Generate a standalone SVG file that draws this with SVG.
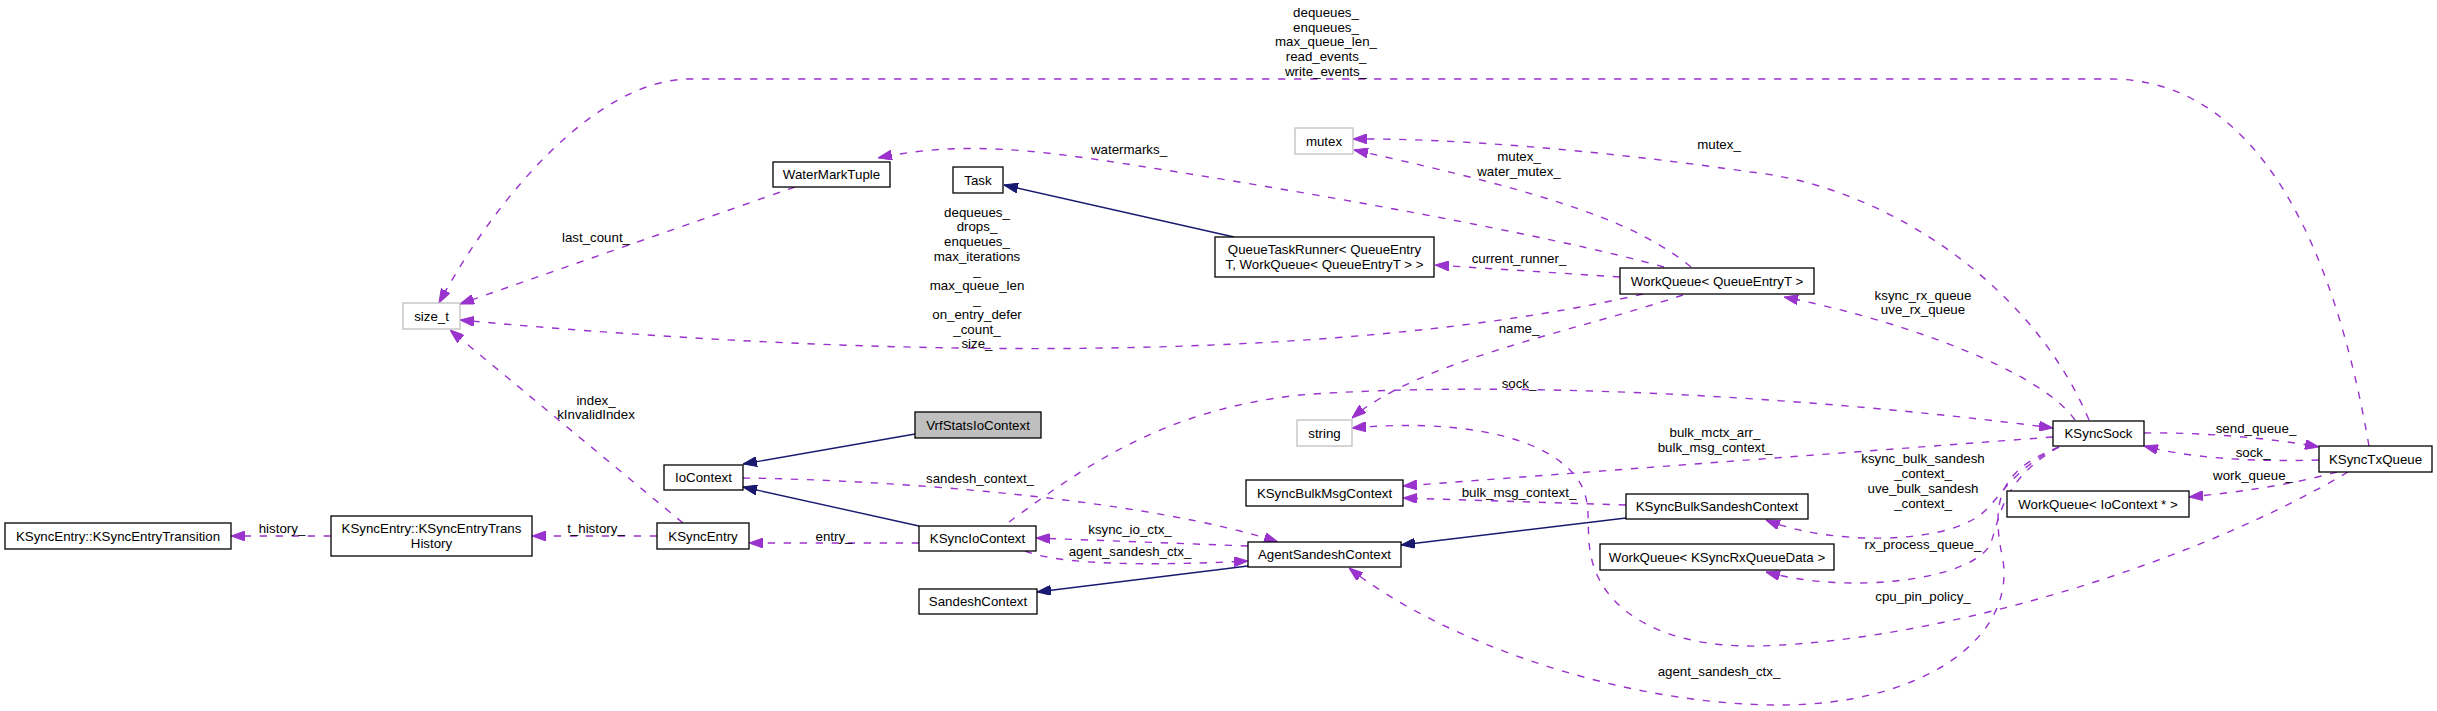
<svg xmlns="http://www.w3.org/2000/svg" width="2437" height="711" viewBox="0 0 2437 711">
<style>
.n rect{fill:#fff;stroke:#000;stroke-width:1.3}
.n.g rect{stroke:#bfbfbf}
.n.f rect{fill:#bfbfbf}
text{font-family:"Liberation Sans",Arial,Helvetica,sans-serif;font-size:13.3px;fill:#000;text-anchor:middle}
.e path{fill:none;stroke:#9a32cd;stroke-width:1.4;stroke-dasharray:7.3,8.7;marker-end:url(#ap)}
.e path.i{stroke:#191970;stroke-dasharray:none;marker-end:url(#an)}
</style>
<defs>
<marker id="ap" markerUnits="userSpaceOnUse" viewBox="0 0 14 10" refX="14" refY="5" markerWidth="14" markerHeight="10" orient="auto"><path d="M0,0L14,5L0,10z" fill="#9a32cd" stroke="#9a32cd" stroke-width="1"/></marker>
<marker id="an" markerUnits="userSpaceOnUse" viewBox="0 0 14 10" refX="14" refY="5" markerWidth="14" markerHeight="10" orient="auto"><path d="M0,0L14,5L0,10z" fill="#191970" stroke="#191970" stroke-width="1"/></marker>
</defs>
<rect width="2437" height="711" fill="#fff"/>
<g id="edges" class="e">
<path d="M2369,446 C2335,250 2260,79 2110,79 L690,79 C600,79 500,190 439,303"/>
<path d="M795,187 L460,304"/>
<path d="M1643,294 C1400,350 1000,370 460,320"/>
<path d="M683,523 L450,330"/>
<path d="M1664,267 C1550,235 1300,190 1100,160 C1000,145 940,145 878,158"/>
<path class="i" d="M1234,237 L1004,185"/>
<path d="M1691,267 C1640,225 1560,195 1354,150"/>
<path d="M2089,420 C2030,280 1880,185 1750,172 C1600,150 1450,138 1353,139"/>
<path d="M1620,277 L1435,265"/>
<path d="M1683,295 C1580,330 1420,360 1352,418"/>
<path d="M2075,420 C2040,370 1900,320 1784,297"/>
<path d="M1009,522 C1080,470 1160,410 1300,395 C1500,380 1800,395 2053,428"/>
<path d="M2348,472 C2200,560 1950,640 1760,646 C1660,648 1610,610 1595,570 C1580,530 1600,500 1570,470 C1530,430 1440,420 1352,428"/>
<path d="M2053,437 L1403,486"/>
<path d="M1626,505 L1403,498"/>
<path class="i" d="M1626,518 L1401,545"/>
<path class="i" d="M1248,566 L1037,592"/>
<path class="i" d="M915,434 L743,464"/>
<path class="i" d="M919,526 L743,487"/>
<path d="M743,478 C900,480 1150,500 1278,542"/>
<path d="M919,543 L749,543"/>
<path d="M1248,546 L1036,538"/>
<path d="M1025,551 C1060,565 1150,566 1248,561"/>
<path d="M2059,447 C2000,470 1990,500 2003,560 C2015,640 1920,705 1780,705 C1620,705 1440,640 1349,568"/>
<path d="M2059,447 C2010,470 2000,500 1980,515 C1940,545 1830,545 1766,520"/>
<path d="M2059,447 C2000,480 2000,520 1990,545 C1970,580 1850,595 1766,572"/>
<path d="M2144,433 C2200,432 2270,438 2319,447"/>
<path d="M2319,460 C2250,462 2190,458 2144,446"/>
<path d="M2337,472 C2290,485 2240,492 2189,497"/>
<path d="M331,536 L231,536"/>
<path d="M657,536 L532,536"/>
</g>
<g id="labels">
<text x="1326" y="17">dequeues_</text>
<text x="1326" y="32">enqueues_</text>
<text x="1326" y="46">max_queue_len_</text>
<text x="1326" y="61">read_events_</text>
<text x="1326" y="76">write_events_</text>
<text x="596" y="242">last_count_</text>
<text x="977" y="217">dequeues_</text>
<text x="977" y="231">drops_</text>
<text x="977" y="246">enqueues_</text>
<text x="977" y="261">max_iterations</text>
<text x="977" y="275">_</text>
<text x="977" y="290">max_queue_len</text>
<text x="977" y="304">_</text>
<text x="977" y="319">on_entry_defer</text>
<text x="977" y="334">_count_</text>
<text x="977" y="348">size_</text>
<text x="596" y="405">index_</text>
<text x="596" y="419">kInvalidIndex</text>
<text x="1129" y="154">watermarks_</text>
<text x="1519" y="161">mutex_</text>
<text x="1519" y="176">water_mutex_</text>
<text x="1719" y="149">mutex_</text>
<text x="1519" y="263">current_runner_</text>
<text x="1519" y="333">name_</text>
<text x="1923" y="300">ksync_rx_queue</text>
<text x="1923" y="314">uve_rx_queue</text>
<text x="1519" y="388">sock_</text>
<text x="1923" y="601">cpu_pin_policy_</text>
<text x="1715" y="437">bulk_mctx_arr_</text>
<text x="1715" y="452">bulk_msg_context_</text>
<text x="1519" y="497">bulk_msg_context_</text>
<text x="980" y="483">sandesh_context_</text>
<text x="834" y="541">entry_</text>
<text x="1130" y="534">ksync_io_ctx_</text>
<text x="1130" y="556">agent_sandesh_ctx_</text>
<text x="1719" y="676">agent_sandesh_ctx_</text>
<text x="1923" y="463">ksync_bulk_sandesh</text>
<text x="1923" y="478">_context_</text>
<text x="1923" y="493">uve_bulk_sandesh</text>
<text x="1923" y="508">_context_</text>
<text x="1923" y="549">rx_process_queue_</text>
<text x="2256" y="433">send_queue_</text>
<text x="2253" y="457">sock_</text>
<text x="2253" y="480">work_queue_</text>
<text x="282" y="533">history_</text>
<text x="596" y="533">t_history_</text>
</g>
<g id="size_t" class="n g"><rect x="403" y="303" width="57" height="26"/><text x="431.5" y="320.5">size_t</text></g>
<g id="WaterMarkTuple" class="n"><rect x="773" y="162" width="117" height="25"/><text x="831.5" y="179">WaterMarkTuple</text></g>
<g id="Task" class="n"><rect x="953" y="167" width="50" height="26"/><text x="978" y="184.5">Task</text></g>
<g id="mutex" class="n g"><rect x="1295" y="128" width="58" height="26"/><text x="1324" y="145.5">mutex</text></g>
<g id="QueueTaskRunner" class="n"><rect x="1215" y="237" width="219" height="40"/><text x="1324.5" y="254">QueueTaskRunner&lt; QueueEntry</text><text x="1324.5" y="268.5">T, WorkQueue&lt; QueueEntryT &gt; &gt;</text></g>
<g id="WorkQueue_QueueEntryT" class="n"><rect x="1620" y="268" width="194" height="26"/><text x="1717" y="285.5">WorkQueue&lt; QueueEntryT &gt;</text></g>
<g id="VrfStatsIoContext" class="n f"><rect x="915" y="412" width="126" height="26"/><text x="978" y="429.5">VrfStatsIoContext</text></g>
<g id="IoContext" class="n"><rect x="664" y="465" width="79" height="25"/><text x="703.5" y="482">IoContext</text></g>
<g id="string" class="n g"><rect x="1297" y="420" width="55" height="26"/><text x="1324.5" y="437.5">string</text></g>
<g id="KSyncBulkMsgContext" class="n"><rect x="1246" y="480" width="157" height="26"/><text x="1324.5" y="497.5">KSyncBulkMsgContext</text></g>
<g id="KSyncSock" class="n"><rect x="2053" y="421" width="91" height="25"/><text x="2098.5" y="438">KSyncSock</text></g>
<g id="KSyncTxQueue" class="n"><rect x="2319" y="446" width="113" height="26"/><text x="2375.5" y="463.5">KSyncTxQueue</text></g>
<g id="WorkQueue_IoContext" class="n"><rect x="2007" y="491" width="182" height="26"/><text x="2098" y="508.5">WorkQueue&lt; IoContext * &gt;</text></g>
<g id="KSyncBulkSandeshContext" class="n"><rect x="1626" y="494" width="182" height="25"/><text x="1717" y="511">KSyncBulkSandeshContext</text></g>
<g id="KSyncEntryTransition" class="n"><rect x="5" y="523" width="226" height="26"/><text x="118" y="540.5">KSyncEntry::KSyncEntryTransition</text></g>
<g id="KSyncEntryTransHistory" class="n"><rect x="331" y="516" width="201" height="40"/><text x="431.5" y="533">KSyncEntry::KSyncEntryTrans</text><text x="431.5" y="547.5">History</text></g>
<g id="KSyncEntry" class="n"><rect x="657" y="523" width="92" height="26"/><text x="703" y="540.5">KSyncEntry</text></g>
<g id="KSyncIoContext" class="n"><rect x="919" y="526" width="117" height="25"/><text x="977.5" y="543">KSyncIoContext</text></g>
<g id="AgentSandeshContext" class="n"><rect x="1248" y="542" width="153" height="25"/><text x="1324.5" y="559">AgentSandeshContext</text></g>
<g id="WorkQueue_KSyncRxQueueData" class="n"><rect x="1600" y="544" width="234" height="26"/><text x="1717" y="561.5">WorkQueue&lt; KSyncRxQueueData &gt;</text></g>
<g id="SandeshContext" class="n"><rect x="919" y="589" width="118" height="25"/><text x="978" y="606">SandeshContext</text></g>
</svg>
